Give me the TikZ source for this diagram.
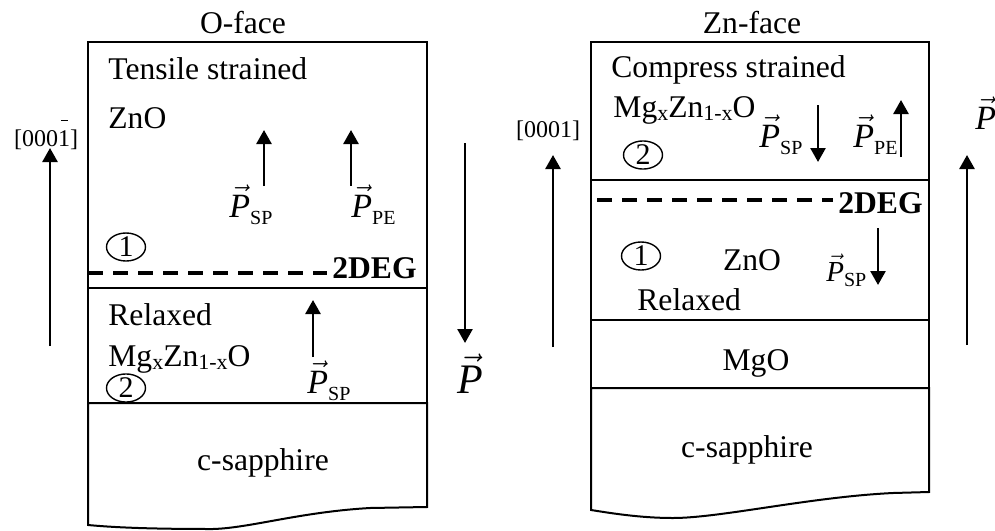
\documentclass[tikz,border=0pt]{standalone}
\usepackage{fontspec}
\setmainfont{Liberation Serif}
\usetikzlibrary{arrows.meta,shapes.geometric}
\newcommand{\vP}{\ensuremath{\vec{\mbox{\itshape P}}}}
\newcommand{\sub}[1]{\raisebox{-0.45ex}{\fontsize{10}{11}\selectfont #1}}
\newcommand{\msub}[1]{\raisebox{-0.25ex}{\fontsize{11}{12}\selectfont #1}}
\tikzset{
  layer/.style={draw,line width=1pt},
  txt/.style={font=\fontsize{15.8}{19}\selectfont, inner sep=0pt},
  bld/.style={font=\fontsize{15.8}{19}\selectfont\bfseries, inner sep=0pt},
  dir/.style={font=\fontsize{12}{14}\selectfont, inner sep=0pt},
  pl/.style={font=\fontsize{17}{19}\selectfont, inner sep=0pt},
  pls/.style={font=\fontsize{14.5}{16}\selectfont, inner sep=0pt},
  bigp/.style={font=\fontsize{21}{24}\selectfont, inner sep=0pt},
  num/.style={draw, ellipse, line width=0.7pt, minimum width=19.5pt, minimum height=14pt, inner sep=0pt, font=\fontsize{15}{16}\selectfont},
  parr/.style={line width=1.3pt, -{Triangle[length=7pt,width=7.5pt]}},
  deg/.style={line width=1.6pt, dash pattern=on 7.5pt off 5pt},
}
\begin{document}
\begin{tikzpicture}[x=0.5pt,y=-0.5pt]
\useasboundingbox (0,0) rectangle (995,530);
% ---------- left panel (O-face)
\node[txt, anchor=base] (ofaceT) at (243,33) {O-face};
\draw[layer] (88,42) rectangle (427,288);
\draw[layer] (88,288) rectangle (427,403);
\draw[layer] (88,403) -- (427,403) -- (427,507) -- (370,508)
  .. controls (300,512) and (250,528) .. (213,529)
  .. controls (160,529) and (120,528) .. (88,525) -- cycle;
\node[txt, anchor=base west] (tensT) at (108,79) {Tensile strained};
\node[txt, anchor=base west] (znoL) at (108,128) {ZnO};
\node[num] (n1L) at (126,247) {1};
\coordinate (dlA) at (88,273);
\coordinate (dlB) at (327,273);
\draw[deg] (dlA) -- (dlB);
\node[bld, anchor=base east] (degL) at (417,278) {2DEG};
\node[txt, anchor=base west] (relL) at (108,325) {Relaxed};
\node[txt, anchor=base west] (mgL) at (108,366) {Mg\msub{x}Zn\msub{1-x}O};
\node[num] (n2L) at (126,388) {2};
\node[txt, anchor=base] (sapL) at (263,470) {c-sapphire};
% polarisation arrows
\coordinate (a1s) at (264,186); \coordinate (a1e) at (264,130);
\draw[parr] (a1s) -- (a1e);
\coordinate (a2s) at (351,186); \coordinate (a2e) at (351,130);
\draw[parr] (a2s) -- (a2e);
\node[pl, anchor=base west] (pspL) at (229,217) {\vP\sub{SP}};
\node[pl, anchor=base west] (ppeL) at (351,217) {\vP\sub{PE}};
\coordinate (a3s) at (313,357); \coordinate (a3e) at (313,300);
\draw[parr] (a3s) -- (a3e);
\node[pl, anchor=base west] (psp2L) at (307,393) {\vP\sub{SP}};
% direction arrows
\coordinate (d1s) at (50,346); \coordinate (d1e) at (50,148);
\draw[parr] (d1s) -- (d1e);
\node[dir, anchor=base] (dirL) at (46,146) {[000\makebox[0pt][l]{\hspace{0.12em}\raisebox{1.05em}{\rule{0.28em}{0.6pt}}}1]};
\coordinate (pts) at (465,143); \coordinate (pte) at (465,343);
\draw[parr] (pts) -- (pte);
\node[bigp, anchor=base west] (ptL) at (457,393) {\vP};
% ---------- right panel (Zn-face)
\node[txt, anchor=base] (znfT) at (752,33) {Zn-face};
\draw[layer] (591,42) rectangle (929,180);
\draw[layer] (591,180) rectangle (929,320);
\draw[layer] (591,320) rectangle (929,388);
\draw[layer] (591,388) -- (929,388) -- (929,492) -- (893,493)
  .. controls (810,497) and (720,518) .. (673,518)
  .. controls (640,518) and (610,513) .. (591,510) -- cycle;
\node[txt, anchor=base west] (compT) at (611,77) {Compress strained};
\node[txt, anchor=base west] (mgR) at (613,117) {Mg\msub{x}Zn\msub{1-x}O};
\node[num] (n2R) at (643,155) {2};
\node[pl, anchor=base west] (pspR) at (759,147) {\vP\sub{SP}};
\coordinate (b1s) at (818,105); \coordinate (b1e) at (818,162);
\draw[parr] (b1s) -- (b1e);
\node[pl, anchor=base west] (ppeR) at (853,147) {\vP\sub{PE}};
\coordinate (b2s) at (901,157); \coordinate (b2e) at (901,100);
\draw[parr] (b2s) -- (b2e);
\coordinate (drA) at (597,200);
\coordinate (drB) at (833,200);
\draw[deg] (drA) -- (drB);
\node[bld, anchor=base east] (degR) at (923,213) {2DEG};
\node[num] (n1R) at (641,256) {1};
\node[txt, anchor=base] (znoR) at (752,270) {ZnO};
\node[pls, anchor=base west] (psp2R) at (826,281) {\vP\sub{SP}};
\coordinate (b3s) at (878,228); \coordinate (b3e) at (878,285);
\draw[parr] (b3s) -- (b3e);
\node[txt, anchor=base west] (relR) at (637,310) {Relaxed};
\node[txt, anchor=base] (mgoR) at (756,370) {MgO};
\node[txt, anchor=base] (sapR) at (747,457) {c-sapphire};
\coordinate (e1s) at (553,347); \coordinate (e1e) at (553,155);
\draw[parr] (e1s) -- (e1e);
\node[dir, anchor=base] (dirR) at (548,137) {[0001]};
\coordinate (e2s) at (967,345); \coordinate (e2e) at (967,155);
\draw[parr] (e2s) -- (e2e);
\node[pl, anchor=base west] (ptR) at (975,129) {\vP};
\end{tikzpicture}
\end{document}
